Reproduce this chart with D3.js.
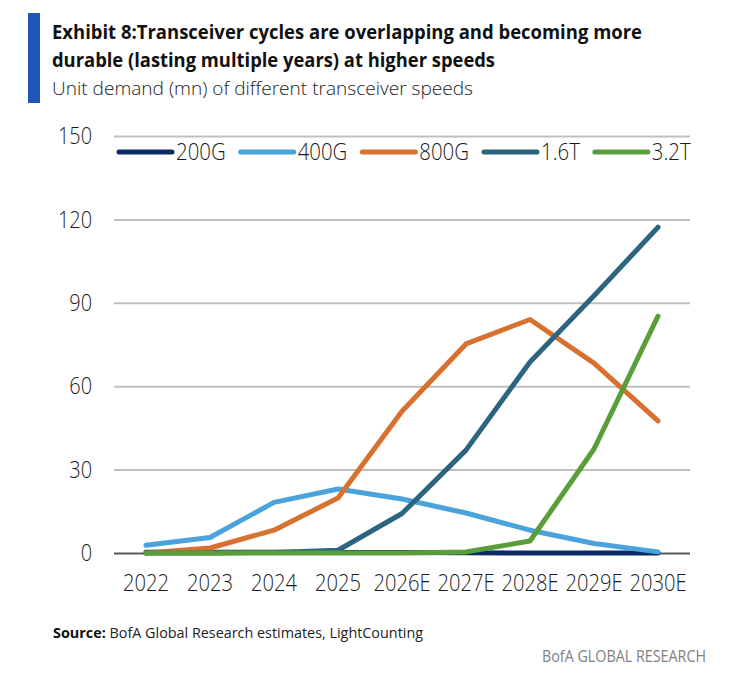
<!DOCTYPE html>
<html>
<head>
<meta charset="utf-8">
<script src="https://cdn.jsdelivr.net/npm/d3@7"></script>
<style>
  body { margin: 0; background: #fff; }
  svg { font-family: "Open Sans", sans-serif; }
  .tick text, .legend text { transform-box: fill-box; }
  .x-axis .tick text { transform: scaleX(0.84); transform-origin: center; }
  .y-axis .tick text { transform: scaleX(0.83); transform-origin: right center; }
  .legend text { transform: scaleX(0.85); transform-origin: left center; }
</style>
</head>
<body>
<div class="chart"></div>
<script>
var years = ["2022", "2023", "2024", "2025", "2026E", "2027E", "2028E", "2029E", "2030E"];
var seriesNames = ["200G", "400G", "800G", "1.6T", "3.2T"];
var s200G = [0.3, 0.3, 0.3, 0.2, 0.2, 0.1, 0, 0, 0];
var s400G = [2.8, 5.6, 18.2, 23, 19.4, 14.4, 8.2, 3.4, 0.4];
var s800G = [0, 1.8, 8.2, 19.8, 51, 75.2, 84, 68.3, 47.5];
var s16T = [0, 0, 0.2, 1, 14.2, 37, 68.7, 92.5, 117.2];
var s32T = [0, 0, 0, 0, 0, 0.4, 4.3, 37.4, 85.2];
var yTicks = [0, 30, 60, 90, 120, 150];

function init() {
    var w = 730;
    var h = 680;
    var colors = ["#0c2a63", "#4aa3dc", "#d8702f", "#2b6580", "#5a9e3a"];
    var allSeries = [s200G, s400G, s800G, s16T, s32T];

    var svg = d3.select(".chart")
        .append("svg")
        .attr("width", w)
        .attr("height", h);

    svg.append("rect").attr("width", w).attr("height", h).attr("fill", "#fff");

    // header
    svg.append("rect")
        .attr("x", 28).attr("y", 13)
        .attr("width", 12).attr("height", 90)
        .attr("fill", "#1f56b8");

    svg.append("text")
        .attr("x", 52).attr("y", 39)
        .attr("font-size", 19.5).attr("font-weight", 700).attr("fill", "#111")
        .attr("textLength", 590).attr("lengthAdjust", "spacingAndGlyphs")
        .text("Exhibit 8:Transceiver cycles are overlapping and becoming more");

    svg.append("text")
        .attr("x", 52).attr("y", 67)
        .attr("font-size", 19.5).attr("font-weight", 700).attr("fill", "#111")
        .attr("textLength", 443).attr("lengthAdjust", "spacingAndGlyphs")
        .text("durable (lasting multiple years) at higher speeds");

    svg.append("text")
        .attr("x", 52).attr("y", 95)
        .attr("font-size", 18.5).attr("font-weight", 300).attr("fill", "#222")
        .attr("textLength", 421).attr("lengthAdjust", "spacingAndGlyphs")
        .text("Unit demand (mn) of different transceiver speeds");

    // scales
    var x = d3.scaleBand().domain(years).range([114, 690]);
    var y = d3.scaleLinear().domain([0, 150]).range([553, 136]);

    // gridlines + y axis labels
    var yAxis = svg.append("g")
        .attr("class", "y-axis")
        .attr("transform", "translate(114,0)")
        .call(d3.axisLeft(y).tickValues(yTicks).tickSize(-576).tickPadding(22));
    yAxis.select(".domain").remove();
    yAxis.selectAll(".tick line")
        .attr("stroke", function(d) { return d === 0 ? "#5a5a5a" : "#bfbfbf"; })
        .attr("stroke-width", 2);
    yAxis.selectAll(".tick text")
        .attr("font-size", 24).attr("font-weight", 300)
        .attr("font-family", "Open Sans").attr("fill", "#1a1a1a");

    // x axis labels
    var xAxis = svg.append("g")
        .attr("class", "x-axis")
        .attr("transform", "translate(0,553)")
        .call(d3.axisBottom(x).tickSize(0).tickPadding(0));
    xAxis.select(".domain").remove();
    xAxis.selectAll(".tick text")
        .attr("y", 38).attr("dy", 0)
        .attr("font-size", 24).attr("font-weight", 300)
        .attr("font-family", "Open Sans").attr("fill", "#1a1a1a");

    // lines
    var line = d3.line()
        .x(function(d, i) { return x(years[i]) + x.bandwidth() / 2; })
        .y(function(d) { return y(d); });

    svg.selectAll("path.series")
        .data(allSeries)
        .enter()
        .append("path")
        .attr("class", "series")
        .attr("fill", "none")
        .attr("stroke", function(d, i) { return colors[i]; })
        .attr("stroke-width", 5)
        .attr("stroke-linejoin", "round")
        .attr("stroke-linecap", "round")
        .attr("d", line);

    // legend
    var legend = svg.append("g").attr("class", "legend");
    var lx = 119;
    seriesNames.forEach(function(name, i) {
        legend.append("line")
            .attr("x1", lx).attr("x2", lx + 53)
            .attr("y1", 152).attr("y2", 152)
            .attr("stroke", colors[i])
            .attr("stroke-width", 5)
            .attr("stroke-linecap", "round");
        var t = legend.append("text")
            .attr("x", lx + 57).attr("y", 152).attr("dy", "0.35em")
            .attr("font-size", 24).attr("font-weight", 300).attr("fill", "#1a1a1a")
            .text(name);
        var tw = t.node().getComputedTextLength() * 0.85;
        lx = lx + 57 + tw + 15;
    });

    // footer
    var src = svg.append("text")
        .attr("x", 53).attr("y", 638)
        .attr("font-size", 15).attr("fill", "#222")
        .attr("textLength", 370).attr("lengthAdjust", "spacingAndGlyphs");
    src.append("tspan").attr("font-weight", 700).attr("fill", "#111").text("Source:");
    src.append("tspan").text(" BofA Global Research estimates, LightCounting");

    svg.append("text")
        .attr("x", 706).attr("y", 662)
        .attr("text-anchor", "end")
        .attr("font-size", 16).attr("fill", "#808080")
        .attr("textLength", 164).attr("lengthAdjust", "spacingAndGlyphs")
        .text("BofA GLOBAL RESEARCH");
}

init()
</script>
</body>
</html>
